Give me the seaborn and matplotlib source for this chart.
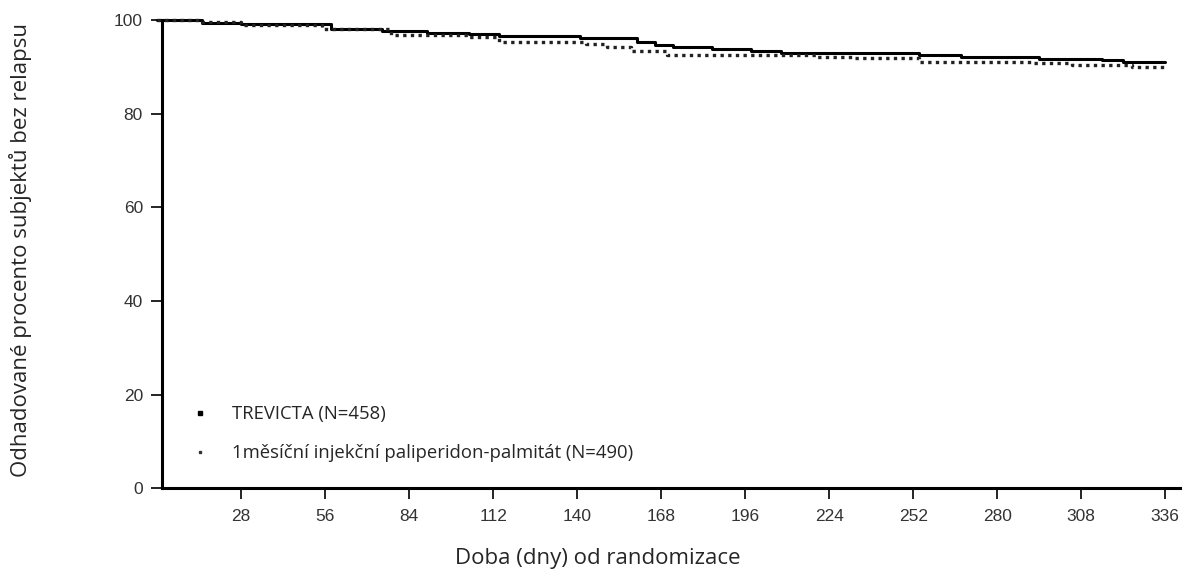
import numpy as np
import pandas as pd
import matplotlib
matplotlib.use('Agg')
import matplotlib.pyplot as plt
from matplotlib.lines import Line2D
import seaborn as sns

# Kaplan-Meier step data (day, % relapse-free)
trevicta_days = [0, 15, 28, 58, 75, 90, 104, 114, 141, 160, 166, 172, 185, 198, 208, 254, 268, 294, 315, 322, 336]
trevicta_pct = [100, 99.4, 99.1, 98.0, 97.7, 97.3, 97.0, 96.6, 96.1, 95.3, 94.7, 94.2, 93.8, 93.4, 92.9,
                92.5, 92.2, 91.7, 91.5, 91.1, 91.1]

monthly_days = [0, 15, 28, 55, 78, 104, 114, 143, 150, 158, 170, 220, 232, 254, 292, 305, 325, 336]
monthly_pct = [100, 99.5, 99.0, 98.0, 96.8, 96.3, 95.4, 94.8, 94.3, 93.3, 92.5, 92.2, 91.8, 91.1,
               90.9, 90.4, 90.0, 89.9]

x_ticks = [28, 56, 84, 112, 140, 168, 196, 224, 252, 280, 308, 336]
y_ticks = [0, 20, 40, 60, 80, 100]

label_trevicta = 'TREVICTA (N=458)'
label_monthly = '1měsíční injekční paliperidon-palmitát (N=490)'

df_t = pd.DataFrame({'day': trevicta_days, 'pct': trevicta_pct})
df_m = pd.DataFrame({'day': monthly_days, 'pct': monthly_pct})

sns.set_style('white')
text_font = ['Open Sans', 'DejaVu Sans']
tick_font = ['Liberation Sans', 'DejaVu Sans']

fig = plt.figure(figsize=(11.85, 5.71), dpi=100)
ax = fig.add_axes([0.137, 0.145, 0.859, 0.82])

sns.lineplot(data=df_t, x='day', y='pct', ax=ax, color='black', linewidth=2.2,
             drawstyle='steps-post', clip_on=False)
sns.lineplot(data=df_m, x='day', y='pct', ax=ax, color='#222222', linewidth=2.4,
             linestyle=(0, (1, 1.3)), drawstyle='steps-post', clip_on=False)

ax.set_xlim(1.7, 341)
ax.set_ylim(0, 100)
ax.set_xticks(x_ticks)
ax.set_yticks(y_ticks)

for s in ['top', 'right']:
    ax.spines[s].set_visible(False)
for s in ['left', 'bottom']:
    ax.spines[s].set_linewidth(2.2)
    ax.spines[s].set_color('black')

ax.tick_params(axis='both', direction='out', length=8, width=1.2, color='black',
               labelsize=12.5, labelcolor='#333333', bottom=True, left=True)
ax.tick_params(axis='x', pad=7)
ax.tick_params(axis='y', pad=6)
for lbl in ax.get_xticklabels() + ax.get_yticklabels():
    lbl.set_family(tick_font)

ax.set_xlabel('Doba (dny) od randomizace', fontsize=16, family=text_font)
ax.set_ylabel('Odhadované procento subjektů bez relapsu', fontsize=16, family=text_font)
ax.xaxis.set_label_coords(0.428, -0.128)
ax.yaxis.set_label_coords(-0.128, 0.508)

handles = [
    Line2D([], [], marker='s', markersize=2.5, color='black', linestyle='none'),
    Line2D([], [], marker='s', markersize=1.6, color='#333333', linestyle='none'),
]
leg = ax.legend(handles, [label_trevicta, label_monthly], loc='lower left',
                bbox_to_anchor=(0.01, 0.02), frameon=False, handlelength=1.2,
                handletextpad=1.1, labelspacing=1.15, prop={'family': text_font, 'size': 13.3})

fig.savefig('out.png', dpi=100)
